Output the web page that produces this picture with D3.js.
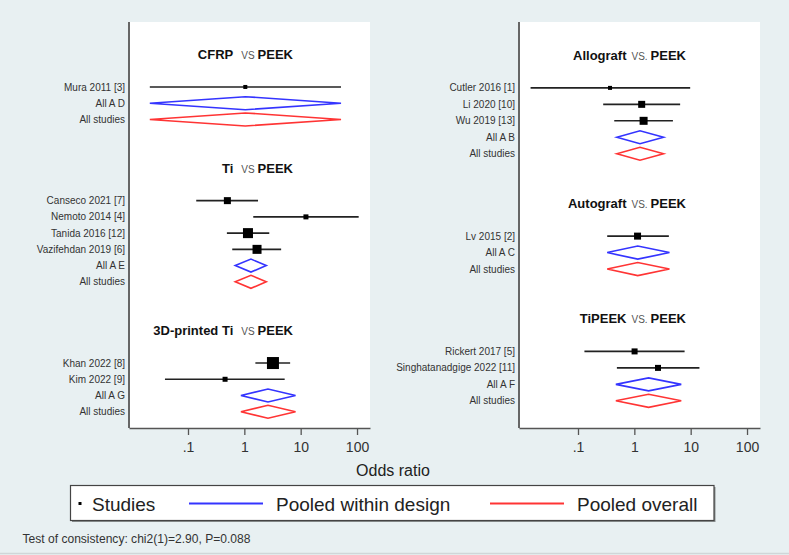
<!DOCTYPE html>
<html><head><meta charset="utf-8">
<script src="https://cdn.jsdelivr.net/npm/d3@7"></script>
<style>
html,body{margin:0;padding:0;background:#e8f0f2;}
svg{display:block;font-family:"Liberation Sans",Arial,Helvetica,sans-serif;}
</style></head><body>
<svg id="chart" width="789" height="555"></svg>
<script>
// ---------------- DATA ----------------
const comparisons = ["CFRP", "Ti", "3D-printed Ti", "Allograft", "Autograft", "TiPEEK"];
const comparisonPanel = [0, 0, 0, 1, 1, 1];
const vsLabels = ["VS", "VS", "VS", "VS.", "VS.", "VS."];
const referenceLabel = "PEEK";

const studyLabels = ["Mura 2011 [3]", "Canseco 2021 [7]", "Nemoto 2014 [4]", "Tanida 2016 [12]", "Vazifehdan 2019 [6]",
  "Khan 2022 [8]", "Kim 2022 [9]", "Cutler 2016 [1]", "Li 2020 [10]", "Wu 2019 [13]", "Lv 2015 [2]",
  "Rickert 2017 [5]", "Singhatanadgige 2022 [11]"];
const studyComparison = [0, 1, 1, 1, 1, 2, 2, 3, 3, 3, 4, 5, 5];
const studyOR = [1.04, 0.50, 12.4, 1.16, 1.68, 3.22, 0.455, 0.37, 1.35, 1.46, 1.14, 1.01, 2.63];
const studyLow = [0.021, 0.14, 1.44, 0.49, 0.61, 1.57, 0.039, 0.0144, 0.28, 0.44, 0.33, 0.13, 0.49];
const studyHigh = [52, 1.75, 107, 2.77, 4.5, 6.5, 5.2, 9.8, 6.5, 4.84, 4.1, 7.8, 14.3];
const studyWeight = [16, 49, 25, 100, 81, 144, 25, 16, 49, 64, 49, 36, 36];

const pooledLabels = ["All A D", "All A E", "All A G", "All A B", "All A C", "All A F"];
const pooledOR = [1.04, 1.31, 2.63, 1.26, 1.15, 1.79];
const pooledLow = [0.021, 0.69, 0.87, 0.49, 0.33, 0.47];
const pooledHigh = [52, 2.45, 8.1, 3.3, 4.2, 6.8];

const overallLabel = "All studies";
const overallOR = [1.04, 1.31, 2.63, 1.26, 1.15, 1.79];
const overallLow = [0.021, 0.69, 0.87, 0.49, 0.33, 0.47];
const overallHigh = [52, 2.45, 8.1, 3.3, 4.2, 6.8];

const tickValues = [0.1, 1, 10, 100];
const tickLabels = [".1", "1", "10", "100"];
const axisTitle = "Odds ratio";
const legendLabels = ["Studies", "Pooled within design", "Pooled overall"];
const footnote = "Test of consistency: chi2(1)=2.90, P=0.088";

// ---------------- LAYOUT ----------------
const W = 789, H = 555;
const BG = "#e8f0f2";
const BLUE = "#3434ff", RED = "#ff3434";
const layout = [
  {left: 129, right: 370, top: 22, bottom: 428, slotMax: 21, labelX: 125, titleRight: 293},
  {left: 519, right: 760, top: 22, bottom: 428, slotMax: 20.65, labelX: 515, titleRight: 686}
];
const xDomain = [0.00897, 170];

const svg = d3.select("#chart");
svg.append("rect").attr("width", W).attr("height", H).attr("fill", BG);
svg.append("line").attr("x1", 0).attr("x2", W).attr("y1", 553.5).attr("y2", 553.5)
  .attr("stroke", "#d0d6d8").attr("stroke-width", 1.5);

const sizeScale = d3.scaleSqrt().domain([0, 144]).range([0, 12]);

layout.forEach((L, pi) => {
  const g = svg.append("g");
  const x = d3.scaleLog().domain(xDomain).range([L.left, L.right]);
  const y = d3.scaleLinear().domain([-4, L.slotMax]).range([L.top, L.bottom]);

  // build rows
  const rows = [], titles = [];
  let slot = -2;
  comparisons.forEach((c, ci) => {
    if (comparisonPanel[ci] !== pi) return;
    titles.push({ci, slot});
    slot += 2;
    studyLabels.forEach((s, si) => {
      if (studyComparison[si] === ci)
        rows.push({type: "study", label: s, or: studyOR[si], lo: studyLow[si], hi: studyHigh[si], w: studyWeight[si], slot: slot++});
    });
    rows.push({type: "pooled", label: pooledLabels[ci], or: pooledOR[ci], lo: pooledLow[ci], hi: pooledHigh[ci], slot: slot++});
    rows.push({type: "overall", label: overallLabel, or: overallOR[ci], lo: overallLow[ci], hi: overallHigh[ci], slot: slot++});
    slot += 2;
  });

  // plot region
  g.append("rect").attr("x", L.left).attr("y", L.top)
    .attr("width", L.right - L.left).attr("height", L.bottom - L.top).attr("fill", "#ffffff");

  // titles
  titles.forEach(t => {
    const tx = g.append("text").attr("x", L.titleRight).attr("y", y(t.slot) + 4.7)
      .attr("text-anchor", "end").attr("fill", "#111");
    tx.append("tspan").attr("font-weight", "bold").attr("font-size", 13).text(comparisons[t.ci]);
    tx.append("tspan").attr("dx", pi === 0 ? 8 : 5).attr("font-size", 10).attr("fill", "#555").text(vsLabels[t.ci]);
    tx.append("tspan").attr("dx", 3).attr("font-weight", "bold").attr("font-size", 13).text(referenceLabel);
  });

  // row labels
  g.selectAll("text.rowlab").data(rows).join("text").attr("class", "rowlab")
    .attr("x", L.labelX).attr("y", d => y(d.slot) + 3.6)
    .attr("text-anchor", "end").attr("font-size", 10).attr("fill", "#333")
    .text(d => d.label);

  const studies = rows.filter(d => d.type === "study");
  g.selectAll("line.ci").data(studies).join("line").attr("class", "ci")
    .attr("x1", d => x(d.lo)).attr("x2", d => x(d.hi))
    .attr("y1", d => y(d.slot)).attr("y2", d => y(d.slot))
    .attr("stroke", "#222").attr("stroke-width", 1.6);
  g.selectAll("rect.pt").data(studies).join("rect").attr("class", "pt")
    .attr("x", d => x(d.or) - sizeScale(d.w) / 2).attr("y", d => y(d.slot) - sizeScale(d.w) / 2)
    .attr("width", d => sizeScale(d.w)).attr("height", d => sizeScale(d.w)).attr("fill", "#000");

  const h = 6.5;
  const diamonds = rows.filter(d => d.type !== "study");
  g.selectAll("path.dia").data(diamonds).join("path").attr("class", "dia")
    .attr("d", d => {
      const yy = y(d.slot);
      return `M${x(d.lo)},${yy}L${x(d.or)},${yy - h}L${x(d.hi)},${yy}L${x(d.or)},${yy + h}Z`;
    })
    .attr("fill", "none").attr("stroke", d => d.type === "pooled" ? BLUE : RED)
    .attr("stroke-width", 1.6).attr("stroke-linejoin", "miter");

  // axes
  const ax = g.append("g").attr("transform", `translate(0,${L.bottom})`)
    .call(d3.axisBottom(x).tickValues(tickValues).tickFormat((d, i) => tickLabels[i])
      .tickSize(7).tickSizeOuter(0).tickPadding(7));
  ax.select(".domain").attr("stroke", "#555").attr("stroke-width", 1.6);
  ax.selectAll(".tick line").attr("stroke", "#555").attr("stroke-width", 1.3);
  ax.selectAll(".tick text").attr("font-size", 14).attr("fill", "#333")
    .attr("font-family", "Liberation Sans, Arial, sans-serif");
  g.append("line").attr("x1", L.left).attr("x2", L.left).attr("y1", L.top).attr("y2", L.bottom)
    .attr("stroke", "#666").attr("stroke-width", 2);
});

// axis title
svg.append("text").attr("x", 393).attr("y", 475.7).attr("text-anchor", "middle")
  .attr("font-size", 16).attr("fill", "#222").text(axisTitle);

// legend
const lg = svg.append("g");
lg.append("rect").attr("x", 72).attr("y", 487).attr("width", 643.5).attr("height", 35).attr("fill", "#8a8f90");
lg.append("rect").attr("x", 70.5).attr("y", 485.5).attr("width", 643.5).attr("height", 35)
  .attr("fill", "#fff").attr("stroke", "#444").attr("stroke-width", 1.2);
lg.append("rect").attr("x", 78.5).attr("y", 502).attr("width", 3).attr("height", 3).attr("fill", "#000");
lg.append("line").attr("x1", 189).attr("x2", 263).attr("y1", 503.5).attr("y2", 503.5).attr("stroke", BLUE).attr("stroke-width", 2);
lg.append("line").attr("x1", 490).attr("x2", 564).attr("y1", 503.5).attr("y2", 503.5).attr("stroke", RED).attr("stroke-width", 2);
const lx = [92, 276, 577];
legendLabels.forEach((t, i) => {
  lg.append("text").attr("x", lx[i]).attr("y", 510.5).attr("font-size", 19).attr("fill", "#222").text(t);
});

// footnote
svg.append("text").attr("x", 22.5).attr("y", 543).attr("font-size", 12).attr("fill", "#333")
  .attr("textLength", 228).attr("lengthAdjust", "spacingAndGlyphs").text(footnote);
</script>
</body></html>
